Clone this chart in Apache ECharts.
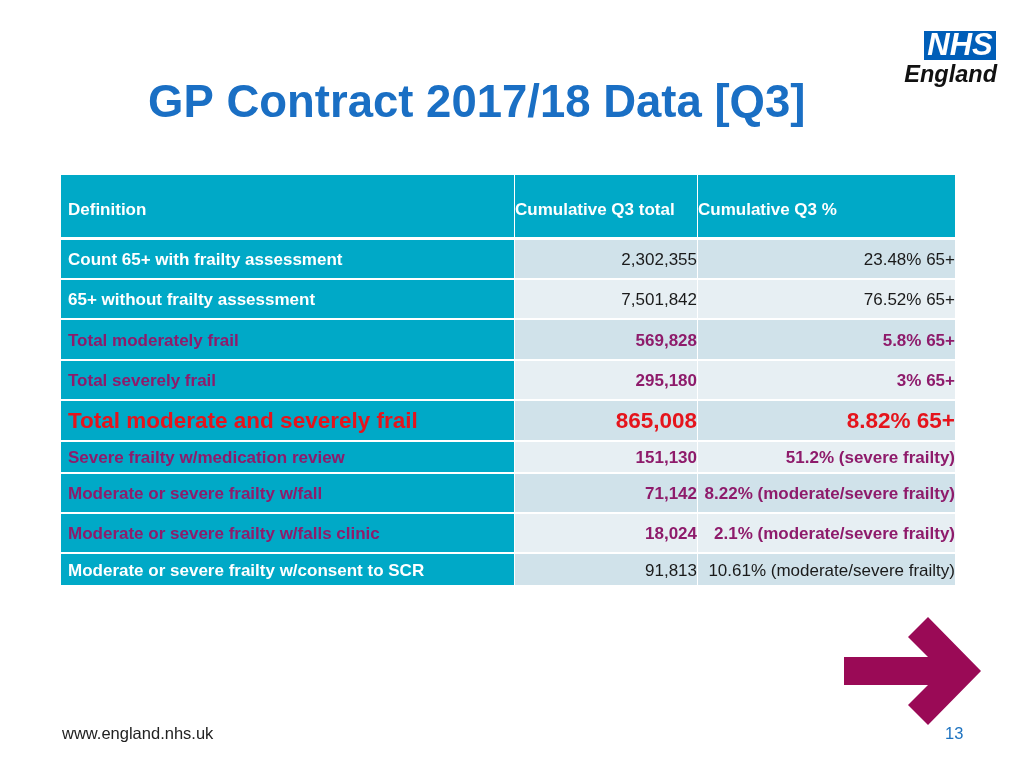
<!DOCTYPE html>
<html>
<head>
<meta charset="utf-8">
<script src="https://cdn.jsdelivr.net/npm/echarts@6/dist/echarts.min.js"></script>
<style>html,body{margin:0;padding:0;background:#fff}#c{width:1024px;height:768px}</style>
</head>
<body>
<div id="c"></div>
<script>
// ---- data ----
const headers = ['Definition', 'Cumulative Q3 total', 'Cumulative Q3 %'];
const definitions = [
  'Count 65+ with frailty assessment',
  '65+ without frailty assessment',
  'Total moderately frail',
  'Total severely frail',
  'Total moderate and severely frail',
  'Severe frailty w/medication review',
  'Moderate or severe frailty w/fall',
  'Moderate or severe frailty w/falls clinic',
  'Moderate or severe frailty w/consent to SCR'
];
const totals = [2302355, 7501842, 569828, 295180, 865008, 151130, 71142, 18024, 91813];
const percents = [23.48, 76.52, 5.8, 3, 8.82, 51.2, 8.22, 2.1, 10.61];
const percentBases = ['65+', '65+', '65+', '65+', '65+', '(severe frailty)',
  '(moderate/severe frailty)', '(moderate/severe frailty)', '(moderate/severe frailty)'];

// ---- styles / layout (not data) ----
const rowTone = ['plain', 'plain', 'accent', 'accent', 'highlight', 'accent', 'accent', 'accent', 'plain'];
const colSpans = [[0, 453], [454, 636], [637, 894]];
const rowSpans = [[0, 62], [65, 103], [105, 143], [145, 184], [186, 224], [226, 265],
  [267, 297], [299, 337], [339, 377], [379, 410]];
const FF = '"Liberation Sans", Arial, Helvetica, sans-serif';
const TEAL = '#00A9C7', DARKCELL = '#D0E2EA', LIGHTCELL = '#E7EFF3';
const PURPLE = '#8E1B6B', RED = '#E5141C';

function cellText(r, c) {
  if (r === 0) return headers[c];
  const i = r - 1;
  if (c === 0) return definitions[i];
  if (c === 1) return totals[i].toLocaleString('en-US');
  return percents[i] + '% ' + percentBases[i];
}

const cells = [];
for (let r = 0; r <= definitions.length; r++) {
  for (let c = 0; c < headers.length; c++) cells.push([c, r]);
}

function renderItem(params, api) {
  const c = api.value(0), r = api.value(1);
  const p0 = api.coord([colSpans[c][0], rowSpans[r][0]]);
  const p1 = api.coord([colSpans[c][1], rowSpans[r][1]]);
  const x0 = p0[0], y0 = p0[1], x1 = p1[0], y1 = p1[1];
  let bg;
  if (r === 0 || c === 0) bg = TEAL;
  else bg = (r % 2 === 1) ? DARKCELL : LIGHTCELL;
  let fill, weight = 'bold', size = 17, align, tx, ty = (y0 + y1) / 2 + 1.5;
  if (r === 0) {
    fill = '#FFFFFF'; align = 'left'; tx = c === 0 ? x0 + 7 : x0; ty += 3;
  } else {
    const tone = rowTone[r - 1];
    if (tone === 'plain') { fill = c === 0 ? '#FFFFFF' : '#1A1A1A'; weight = c === 0 ? 'bold' : 'normal'; }
    else if (tone === 'accent') fill = PURPLE;
    else { fill = RED; size = 22.5; }
    if (c === 0) { align = 'left'; tx = x0 + 7; }
    else { align = 'right'; tx = x1; }
  }
  return {
    type: 'group',
    children: [
      { type: 'rect', shape: { x: x0, y: y0, width: x1 - x0, height: y1 - y0 }, style: { fill: bg } },
      { type: 'text', style: {
          text: cellText(r, c), x: tx, y: ty, fill: fill,
          font: weight + ' ' + size + 'px ' + FF,
          align: align, textAlign: align, verticalAlign: 'middle', textVerticalAlign: 'middle'
      } }
    ]
  };
}

const chart = echarts.init(document.getElementById('c'), null, { renderer: 'canvas' });
chart.setOption({
  backgroundColor: '#FFFFFF',
  animation: false,
  title: {
    text: 'GP Contract 2017/18 Data [Q3]',
    left: 148, top: 81, padding: 0,
    textStyle: { color: '#1A6FC4', fontSize: 45.5, fontWeight: 'bold', fontFamily: FF }
  },
  grid: { left: 61, top: 175, width: 894, height: 410 },
  xAxis: { type: 'value', min: 0, max: 894, show: false },
  yAxis: { type: 'value', min: 0, max: 410, inverse: true, show: false },
  series: [{
    type: 'custom',
    data: cells,
    renderItem: renderItem,
    silent: true
  }],
  graphic: [
    { type: 'rect', left: 924, top: 31, shape: { width: 72, height: 29 }, style: { fill: '#005EB8' } },
    { type: 'text', style: { text: 'NHS', x: 960, y: 46.5, fill: '#FFFFFF',
        font: 'italic bold 31px ' + FF, align: 'center', textAlign: 'center', verticalAlign: 'middle', textVerticalAlign: 'middle' } },
    { type: 'text', style: { text: 'England', x: 997, y: 75.5, fill: '#111111',
        font: 'italic bold 23.5px ' + FF, align: 'right', textAlign: 'right', verticalAlign: 'middle', textVerticalAlign: 'middle' } },
    { type: 'polygon', shape: { points: [[844, 657], [928, 657], [908, 637], [928, 617], [981, 671],
        [928, 725], [908, 705], [928, 685], [844, 685]] }, style: { fill: '#9A0A56' } },
    { type: 'text', style: { text: 'www.england.nhs.uk', x: 62, y: 734, fill: '#222222',
        font: '16.5px ' + FF, align: 'left', textAlign: 'left', verticalAlign: 'middle', textVerticalAlign: 'middle' } },
    { type: 'text', style: { text: '13', x: 945, y: 734, fill: '#1E73C0',
        font: '16.5px ' + FF, align: 'left', textAlign: 'left', verticalAlign: 'middle', textVerticalAlign: 'middle' } }
  ]
});
</script>
</body>
</html>
